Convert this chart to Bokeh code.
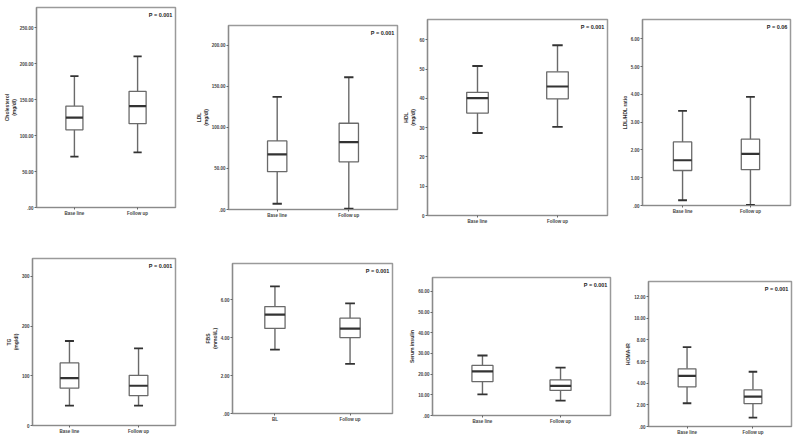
from bokeh.plotting import figure
from bokeh.layouts import row, column
from bokeh.models import FactorRange, Range1d, FixedTicker, Label, ColumnDataSource, Spacer
from bokeh.transform import dodge
from bokeh.embed import file_html
from bokeh.resources import INLINE

groups = ["Base line", "Follow up"]
groups_fbs = ["BL", "Follow up"]

# Cholesterol (mg/dl)
chol_low = [70.6, 76.6]
chol_q1 = [108.0, 116.5]
chol_med = [125.0, 141.0]
chol_q3 = [141.0, 161.5]
chol_high = [182.6, 210.0]

# LDL (mg/dl)
ldl_low = [7.0, 1.0]
ldl_q1 = [46.0, 58.0]
ldl_med = [67.0, 82.0]
ldl_q3 = [83.5, 105.0]
ldl_high = [137.0, 161.0]

# HDL (mg/dl)
hdl_low = [28.2, 30.3]
hdl_q1 = [35.0, 39.9]
hdl_med = [40.1, 44.1]
hdl_q3 = [42.1, 49.1]
hdl_high = [51.1, 58.2]

# LDL/HDL ratio
ratio_low = [0.19, 0.02]
ratio_q1 = [1.26, 1.29]
ratio_med = [1.63, 1.86]
ratio_q3 = [2.29, 2.39]
ratio_high = [3.41, 3.91]

# TG (mg/dl)
tg_low = [40.0, 40.0]
tg_q1 = [75.0, 60.0]
tg_med = [95.5, 80.0]
tg_q3 = [126.0, 101.0]
tg_high = [170.0, 155.0]

# FBS (mmol/L)
fbs_low = [3.36, 2.61]
fbs_q1 = [4.48, 4.00]
fbs_med = [5.21, 4.47]
fbs_q3 = [5.63, 5.02]
fbs_high = [6.70, 5.80]

# Serum insulin
ins_low = [10.2, 7.2]
ins_q1 = [16.4, 12.1]
ins_med = [21.3, 14.3]
ins_q3 = [24.2, 17.2]
ins_high = [29.0, 23.1]

# HOMA-IR
homa_low = [2.15, 0.82]
homa_q1 = [3.67, 2.12]
homa_med = [4.67, 2.76]
homa_q3 = [5.33, 3.39]
homa_high = [7.33, 5.06]

chol_ticks = [0, 50, 100, 150, 200, 250]
chol_labels = [".00", "50.00", "100.00", "150.00", "200.00", "250.00"]
ldl_ticks = [0, 50, 100, 150, 200]
ldl_labels = [".00", "50.00", "100.00", "150.00", "200.00"]
hdl_ticks = [0, 10, 20, 30, 40, 50, 60]
hdl_labels = ["0", "10", "20", "30", "40", "50", "60"]
ratio_ticks = [0, 1, 2, 3, 4, 5, 6]
ratio_labels = [".00", "1.00", "2.00", "3.00", "4.00", "5.00", "6.00"]
tg_ticks = [0, 100, 200, 300]
tg_labels = ["0", "100", "200", "300"]
fbs_ticks = [0, 2, 4, 6]
fbs_labels = [".00", "2.00", "4.00", "6.00"]
ins_ticks = [0, 10, 20, 30, 40, 50, 60]
ins_labels = [".00", "10.00", "20.00", "30.00", "40.00", "50.00", "60.00"]
homa_ticks = [0, 2, 4, 6, 8, 10, 12]
homa_labels = [".00", "2.00", "4.00", "6.00", "8.00", "10.00", "12.00"]

FONT = "Liberation Sans"
BOX_COL = "#6a6a6a"
MED_COL = "#333333"

# page geometry (page pixel coordinates)
COLS = [(0, 180), (180, 220), (400, 212), (612, 188)]
ROWS = [(0, 226), (226, 214)]
T, R, B = 1, 2, 9


def panel(cats, low, q1, med, q3, high, ticks, labels, ylabel, pval,
          col, rw, frame, L, ytop, pad):
    cx, cw = COLS[col]
    ry, rh = ROWS[rw]
    fx0, fx1, fy0, fy1 = frame
    gl = max(0, fx0 - L - cx)
    L = fx0 - cx - gl
    gt = max(0, fy0 - T - ry)
    fig_w = (fx1 + R) - (cx + gl)
    fig_h = (fy1 + B) - (ry + gt)
    gr = cw - gl - fig_w
    gb = rh - gt - fig_h

    xr = FactorRange(factors=cats, range_padding=pad, range_padding_units="absolute")
    p = figure(width=fig_w, height=fig_h, x_range=xr, y_range=Range1d(0, ytop),
               output_backend="svg", toolbar_location=None,
               min_border=0, min_border_left=L, min_border_right=R,
               min_border_top=fy0 - ry - gt, min_border_bottom=B)
    src = ColumnDataSource(dict(cat=cats, low=low, q1=q1, med=med, q3=q3, high=high))
    p.segment(x0="cat", y0="low", x1="cat", y1="q1", source=src,
              line_color=BOX_COL, line_width=1.4)
    p.segment(x0="cat", y0="q3", x1="cat", y1="high", source=src,
              line_color=BOX_COL, line_width=1.4)
    for c in ("low", "high"):
        p.segment(x0=dodge("cat", -0.065, range=xr), y0=c,
                  x1=dodge("cat", 0.065, range=xr), y1=c, source=src,
                  line_color=MED_COL, line_width=1.8)
    p.vbar(x="cat", width=0.27, bottom="q1", top="q3", source=src,
           fill_color="white", line_color=BOX_COL, line_width=1.3)
    p.segment(x0=dodge("cat", -0.135, range=xr), y0="med",
              x1=dodge("cat", 0.135, range=xr), y1="med", source=src,
              line_color=MED_COL, line_width=2.2)

    p.xgrid.grid_line_color = None
    p.ygrid.grid_line_color = None
    p.outline_line_color = "#9a9a9a"
    p.outline_line_width = 1.5
    p.background_fill_color = "white"
    p.border_fill_color = "white"

    p.yaxis.ticker = FixedTicker(ticks=ticks)
    p.yaxis.major_label_overrides = {t: s for t, s in zip(ticks, labels)}
    p.yaxis.axis_label = ylabel
    for ax in (p.xaxis[0], p.yaxis[0]):
        ax.axis_line_color = "#8a8a8a"
        ax.axis_line_width = 1.2
        ax.major_tick_line_color = "#666666"
        ax.major_tick_out = 2
        ax.major_tick_in = 0
        ax.minor_tick_line_color = None
        ax.major_label_standoff = 1
        ax.major_label_text_font = FONT
        ax.major_label_text_font_size = "4.5px"
        ax.major_label_text_font_style = "bold"
        ax.major_label_text_color = "#444444"
        ax.axis_label_text_font = FONT
        ax.axis_label_text_font_size = "5px"
        ax.axis_label_text_font_style = "bold"
        ax.axis_label_text_color = "#333333"
        ax.axis_label_standoff = 0
    p.yaxis.major_label_orientation = "horizontal"

    p.add_layout(Label(x=2 + pad, y=ytop, x_units="data", y_units="data",
                       text=pval, text_align="right", text_baseline="top",
                       x_offset=-3, y_offset=-4, text_font=FONT,
                       text_font_size="5.5px", text_font_style="bold",
                       text_color="#222222"))

    mid = [p]
    if gl > 0:
        mid.insert(0, Spacer(width=gl, height=fig_h))
    if gr > 0:
        mid.append(Spacer(width=gr, height=fig_h))
    parts = []
    if gt > 0:
        parts.append(Spacer(width=cw, height=gt))
    parts.append(row(*mid) if len(mid) > 1 else p)
    if gb > 0:
        parts.append(Spacer(width=cw, height=gb))
    return column(*parts) if len(parts) > 1 else parts[0]


c1 = panel(groups, chol_low, chol_q1, chol_med, chol_q3, chol_high,
           chol_ticks, chol_labels, "Cholesterol\n(mg/dl)", "P = 0.001",
           0, 0, (28, 175, 7, 209), 28, 278, 0.10)
c2 = panel(groups, ldl_low, ldl_q1, ldl_med, ldl_q3, ldl_high,
           ldl_ticks, ldl_labels, "LDL\n(mg/dl)", "P = 0.001",
           1, 0, (222, 397, 25, 211), 30, 224, 0.18)
c3 = panel(groups, hdl_low, hdl_q1, hdl_med, hdl_q3, hdl_high,
           hdl_ticks, hdl_labels, "HDL\n(mg/dl)", "P = 0.001",
           2, 0, (427, 607, 19, 217), 27, 67, 0.125)
c4 = panel(groups, ratio_low, ratio_q1, ratio_med, ratio_q3, ratio_high,
           ratio_ticks, ratio_labels, "LDL/HDL ratio", "P = 0.06",
           3, 0, (642, 790, 19, 207), 24, 6.7, 0.09)
c5 = panel(groups, tg_low, tg_q1, tg_med, tg_q3, tg_high,
           tg_ticks, tg_labels, "TG\n(mg/dl)", "P = 0.001",
           0, 1, (32, 175, 258, 427), 30, 336, 0.035)
c6 = panel(groups_fbs, fbs_low, fbs_q1, fbs_med, fbs_q3, fbs_high,
           fbs_ticks, fbs_labels, "FBS\n(mmol/L)", "P = 0.001",
           1, 1, (232, 392, 263, 415), 32, 7.9, 0.065)
c7 = panel(groups, ins_low, ins_q1, ins_med, ins_q3, ins_high,
           ins_ticks, ins_labels, "Serum insulin", "P = 0.001",
           2, 1, (432, 610, 277, 417), 28, 66.7, 0.14)
c8 = panel(groups, homa_low, homa_q1, homa_med, homa_q3, homa_high,
           homa_ticks, homa_labels, "HOMA-IR", "P = 0.001",
           3, 1, (648, 791, 281, 428), 28, 13.4, 0.085)

layout = column(row(c1, c2, c3, c4), row(c5, c6, c7, c8))
open("out.html", "w").write(file_html(layout, INLINE))
